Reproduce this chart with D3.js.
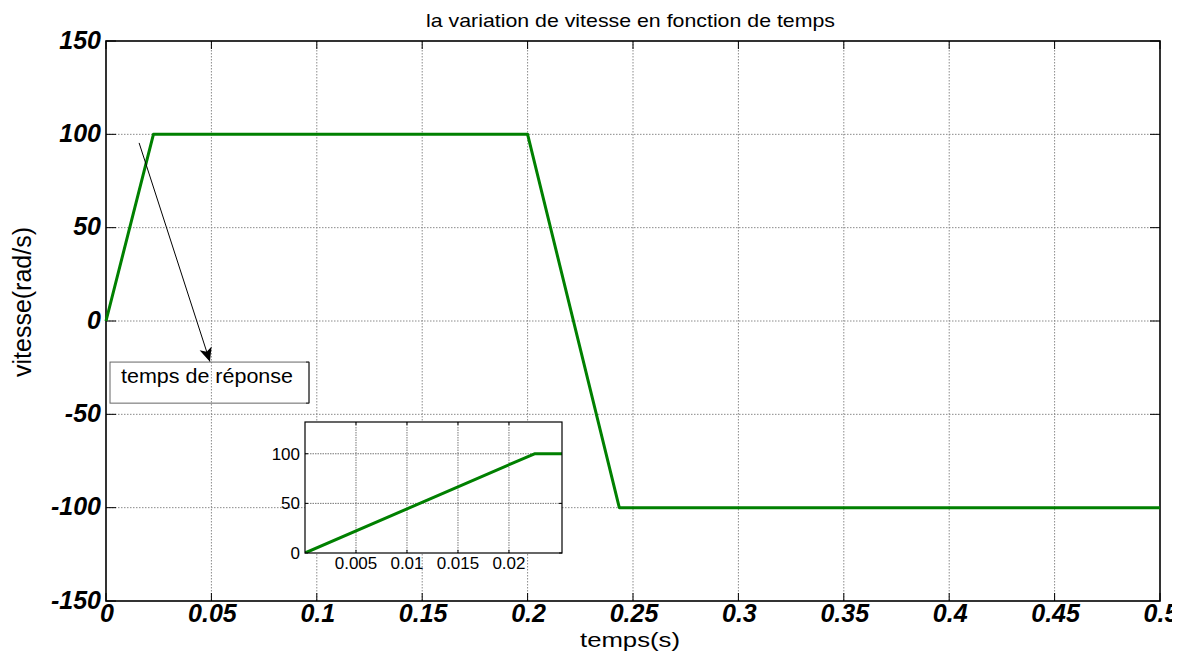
<!DOCTYPE html>
<html>
<head>
<meta charset="utf-8">
<script src="https://cdn.jsdelivr.net/npm/d3@7"></script>
<style>
  html, body { margin: 0; padding: 0; background: #fff; }
  svg { display: block; font-family: "Liberation Sans", Arial, sans-serif; }
</style>
</head>
<body>
<svg id="chart" width="1187" height="657"></svg>
<script>
// Speed profile: time (s) and speed (rad/s) breakpoints
const timeS   = [0, 0.0225, 0.2, 0.2435, 0.5];
const speed   = [0, 100, 100, -100, -100];

// Main axes ticks
const xTicks  = [0, 0.05, 0.1, 0.15, 0.2, 0.25, 0.3, 0.35, 0.4, 0.45, 0.5];
const xTickLabels = ["0", "0.05", "0.1", "0.15", "0.2", "0.25", "0.3", "0.35", "0.4", "0.45", "0.5"];
const yTicks  = [-150, -100, -50, 0, 50, 100, 150];

// Zoomed inset on the start-up ramp
const insetXDomain = [0, 0.0252];
const insetYDomain = [0, 132];
const insetXTicks = [0.005, 0.01, 0.015, 0.02];
const insetXTickLabels = ["0.005", "0.01", "0.015", "0.02"];
const insetYTicks = [0, 50, 100];

// Annotation (data coordinates): arrow start/end and label box corners
const arrowFrom = [0.0157, 95.4];
const arrowTo   = [0.0493, -21.8];
const boxCorner1 = [0.0019, -22];
const boxCorner2 = [0.0963, -44];
const boxText = "temps de réponse";

const titleText = "la variation de vitesse en fonction de temps";
const xLabelText = "temps(s)";
const yLabelText = "vitesse(rad/s)";

const data = timeS.map((t, i) => ({ t, v: speed[i] }));

const svg = d3.select("#chart");
svg.append("rect").attr("width", 1187).attr("height", 657).attr("fill", "#fff");

const plot = { left: 106, top: 41, right: 1160, bottom: 601 };
const x = d3.scaleLinear().domain([0, 0.5]).range([plot.left, plot.right]);
const y = d3.scaleLinear().domain([-150, 150]).range([plot.bottom, plot.top]);

const gridColor = "#8a8a8a";
const green = "#008000";

// grid
const grid = svg.append("g");
grid.selectAll("line.gx").data(xTicks.slice(1, -1)).join("line")
  .attr("x1", d => x(d)).attr("x2", d => x(d))
  .attr("y1", plot.top).attr("y2", plot.bottom)
  .attr("stroke", gridColor).attr("stroke-width", 1).attr("stroke-dasharray", "1.5,1.5");
grid.selectAll("line.gy").data(yTicks.slice(1, -1)).join("line")
  .attr("y1", d => y(d)).attr("y2", d => y(d))
  .attr("x1", plot.left).attr("x2", plot.right)
  .attr("stroke", gridColor).attr("stroke-width", 1).attr("stroke-dasharray", "1.5,1.5");

// inward ticks on all four sides
const ticks = svg.append("g").attr("stroke", "#000").attr("stroke-width", 1);
xTicks.forEach(d => {
  ticks.append("line").attr("x1", x(d)).attr("x2", x(d)).attr("y1", plot.bottom).attr("y2", plot.bottom - 8);
  ticks.append("line").attr("x1", x(d)).attr("x2", x(d)).attr("y1", plot.top).attr("y2", plot.top + 8);
});
yTicks.forEach(d => {
  ticks.append("line").attr("y1", y(d)).attr("y2", y(d)).attr("x1", plot.left).attr("x2", plot.left + 10);
  ticks.append("line").attr("y1", y(d)).attr("y2", y(d)).attr("x1", plot.right).attr("x2", plot.right - 10);
});

// frame
svg.append("rect")
  .attr("x", plot.left).attr("y", plot.top)
  .attr("width", plot.right - plot.left).attr("height", plot.bottom - plot.top)
  .attr("fill", "none").attr("stroke", "#000").attr("stroke-width", 1.6);

// speed curve
const line = d3.line().x(d => x(d.t)).y(d => y(d.v));
svg.append("path").datum(data)
  .attr("d", line).attr("fill", "none")
  .attr("stroke", green).attr("stroke-width", 3).attr("stroke-linejoin", "round");

// tick labels
svg.append("clipPath").attr("id", "figclip")
  .append("rect").attr("x", 0).attr("y", 0).attr("width", 1172).attr("height", 657);

const tickFont = { size: 25 };
svg.append("g").attr("clip-path", "url(#figclip)")
  .selectAll("text").data(xTicks).join("text")
  .attr("x", d => x(d) + 1).attr("y", 622)
  .attr("text-anchor", "middle")
  .attr("font-size", tickFont.size).attr("font-weight", "bold").attr("font-style", "italic")
  .text((d, i) => xTickLabels[i]);

svg.append("g").selectAll("text").data(yTicks).join("text")
  .attr("x", 101).attr("y", d => y(d) - 1)
  .attr("dy", "0.35em")
  .attr("text-anchor", "end")
  .attr("font-size", tickFont.size).attr("font-weight", "bold").attr("font-style", "italic")
  .text(d => d);

// title and axis labels
svg.append("text")
  .attr("x", 630.5).attr("y", 26.5).attr("text-anchor", "middle")
  .attr("font-size", 19).attr("textLength", 409).attr("lengthAdjust", "spacingAndGlyphs")
  .text(titleText);

svg.append("text")
  .attr("x", 630).attr("y", 647).attr("text-anchor", "middle")
  .attr("font-size", 21).attr("textLength", 100).attr("lengthAdjust", "spacingAndGlyphs")
  .text(xLabelText);

svg.append("text")
  .attr("transform", "translate(31,302) rotate(-90)")
  .attr("text-anchor", "middle")
  .attr("font-size", 25)
  .text(yLabelText);

// annotation arrow
const defs = svg.append("defs");
defs.append("marker").attr("id", "arrowhead")
  .attr("viewBox", "0 0 10 10").attr("refX", 10).attr("refY", 5)
  .attr("markerWidth", 14).attr("markerHeight", 14).attr("markerUnits", "userSpaceOnUse")
  .attr("orient", "auto")
  .append("path").attr("d", "M0,0.5 L10,5 L0,9.5 L2.5,5 Z").attr("fill", "#000");

svg.append("line")
  .attr("x1", x(arrowFrom[0])).attr("y1", y(arrowFrom[1]))
  .attr("x2", x(arrowTo[0])).attr("y2", y(arrowTo[1]))
  .attr("stroke", "#000").attr("stroke-width", 1)
  .attr("marker-end", "url(#arrowhead)");

// annotation box
const bx1 = x(boxCorner1[0]), by1 = y(boxCorner1[1]);
const bx2 = x(boxCorner2[0]), by2 = y(boxCorner2[1]);
svg.append("rect")
  .attr("x", bx1).attr("y", by1).attr("width", bx2 - bx1).attr("height", by2 - by1)
  .attr("fill", "none").attr("stroke", "#666").attr("stroke-width", 1);
svg.append("path")
  .attr("d", `M${bx2 - 3},${by1} L${bx2},${by1} L${bx2},${by2} L${bx2 - 3},${by2}`)
  .attr("fill", "none").attr("stroke", "#222").attr("stroke-width", 1);
svg.append("text")
  .attr("x", bx1 + 11).attr("y", by1 + 21)
  .attr("font-size", 20).attr("textLength", 172).attr("lengthAdjust", "spacingAndGlyphs")
  .text(boxText);

// inset axes
const inset = { left: 305, top: 422, right: 562, bottom: 553 };
const xi = d3.scaleLinear().domain(insetXDomain).range([inset.left, inset.right]);
const yi = d3.scaleLinear().domain(insetYDomain).range([inset.bottom, inset.top]);

const gi = svg.append("g");
gi.append("rect")
  .attr("x", inset.left).attr("y", inset.top)
  .attr("width", inset.right - inset.left).attr("height", inset.bottom - inset.top)
  .attr("fill", "#fff");

gi.selectAll("line.ix").data(insetXTicks).join("line")
  .attr("x1", d => xi(d)).attr("x2", d => xi(d))
  .attr("y1", inset.top).attr("y2", inset.bottom)
  .attr("stroke", "#777").attr("stroke-width", 1).attr("stroke-dasharray", "1.5,1");
gi.selectAll("line.iy").data(insetYTicks.filter(d => d > 0)).join("line")
  .attr("y1", d => yi(d)).attr("y2", d => yi(d))
  .attr("x1", inset.left).attr("x2", inset.right)
  .attr("stroke", "#777").attr("stroke-width", 1).attr("stroke-dasharray", "1.5,1");

const iticks = gi.append("g").attr("stroke", "#000").attr("stroke-width", 1);
insetXTicks.forEach(d => {
  iticks.append("line").attr("x1", xi(d)).attr("x2", xi(d)).attr("y1", inset.bottom).attr("y2", inset.bottom - 3);
  iticks.append("line").attr("x1", xi(d)).attr("x2", xi(d)).attr("y1", inset.top).attr("y2", inset.top + 3);
});
insetYTicks.forEach(d => {
  iticks.append("line").attr("y1", yi(d)).attr("y2", yi(d)).attr("x1", inset.left).attr("x2", inset.left + 3);
  iticks.append("line").attr("y1", yi(d)).attr("y2", yi(d)).attr("x1", inset.right).attr("x2", inset.right - 3);
});

gi.append("clipPath").attr("id", "insetclip")
  .append("rect").attr("x", inset.left).attr("y", inset.top)
  .attr("width", inset.right - inset.left).attr("height", inset.bottom - inset.top);

const insetLine = d3.line().x(d => xi(d.t)).y(d => yi(d.v));
gi.append("path").datum(data)
  .attr("clip-path", "url(#insetclip)")
  .attr("d", insetLine).attr("fill", "none")
  .attr("stroke", green).attr("stroke-width", 3).attr("stroke-linejoin", "round");

gi.append("rect")
  .attr("x", inset.left).attr("y", inset.top)
  .attr("width", inset.right - inset.left).attr("height", inset.bottom - inset.top)
  .attr("fill", "none").attr("stroke", "#000").attr("stroke-width", 1.2);

gi.selectAll("text.ixl").data(insetXTicks).join("text")
  .attr("x", d => xi(d)).attr("y", 569)
  .attr("text-anchor", "middle").attr("font-size", 17)
  .text((d, i) => insetXTickLabels[i]);
gi.selectAll("text.iyl").data(insetYTicks).join("text")
  .attr("x", 300).attr("y", d => yi(d)).attr("dy", "0.35em")
  .attr("text-anchor", "end").attr("font-size", 17)
  .text(d => d);
</script>
</body>
</html>
